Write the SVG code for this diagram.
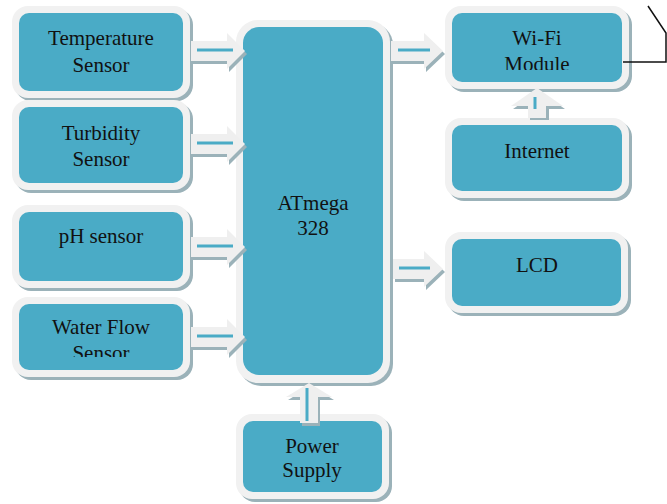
<svg xmlns="http://www.w3.org/2000/svg" width="667" height="504" viewBox="0 0 667 504">
<style>
.sh{fill:#9bb2b9}
.ou{fill:#f1f1f1}
.in{fill:#4aabc6}
.t{font-family:'Liberation Serif',serif;font-size:21px;fill:#111;text-anchor:middle}
.ash{fill:#9bb2b9}
.ab{fill:#efefef}
.al{stroke:#4aabc6;stroke-width:3;fill:none}
</style>
<defs>
<clipPath id="cWater"><rect x="19" y="300" width="164" height="57"/></clipPath>
<clipPath id="cWifi"><rect x="452" y="10" width="170" height="60"/></clipPath>
</defs>
<rect width="667" height="504" fill="#fff"/>
<g id="nodes">
<g id="temp">
<rect class="sh" x="15" y="9" width="178" height="92" rx="16"/>
<rect class="ou" x="12" y="6" width="178" height="92" rx="16"/>
<rect class="in" x="19" y="13" width="164" height="78" rx="10"/>
<text class="t" x="101" y="45">Temperature</text>
<text class="t" x="101" y="72">Sensor</text>
</g>
<g id="turb">
<rect class="sh" x="15" y="103" width="178" height="90" rx="16"/>
<rect class="ou" x="12" y="100" width="178" height="90" rx="16"/>
<rect class="in" x="19" y="107" width="164" height="76" rx="10"/>
<text class="t" x="101" y="140">Turbidity</text>
<text class="t" x="101" y="166">Sensor</text>
</g>
<g id="ph">
<rect class="sh" x="15" y="208" width="178" height="83" rx="16"/>
<rect class="ou" x="12" y="205" width="178" height="83" rx="16"/>
<rect class="in" x="19" y="212" width="164" height="69" rx="10"/>
<text class="t" x="101" y="243">pH sensor</text>
</g>
<g id="water">
<rect class="sh" x="15" y="300" width="178" height="80" rx="16"/>
<rect class="ou" x="12" y="297" width="178" height="80" rx="16"/>
<rect class="in" x="19" y="304" width="164" height="66" rx="10"/>
<text class="t" x="101" y="334">Water Flow</text>
<text class="t" x="101" y="360" clip-path="url(#cWater)">Sensor</text>
</g>
<g id="atmega">
<rect class="sh" x="239" y="23" width="154" height="363" rx="22"/>
<rect class="ou" x="236" y="20" width="154" height="363" rx="22"/>
<rect class="in" x="243" y="27" width="140" height="348" rx="16"/>
<text class="t" x="313" y="210">ATmega</text>
<text class="t" x="313" y="235">328</text>
</g>
<g id="power">
<rect class="sh" x="239" y="417" width="153" height="85" rx="16"/>
<rect class="ou" x="236" y="414" width="153" height="85" rx="16"/>
<rect class="in" x="243" y="421" width="139" height="71" rx="10"/>
<text class="t" x="312" y="453">Power</text>
<text class="t" x="312" y="477">Supply</text>
</g>
<g id="wifi">
<rect class="sh" x="448" y="9" width="184" height="83" rx="16"/>
<rect class="ou" x="445" y="6" width="184" height="83" rx="16"/>
<rect class="in" x="452" y="13" width="170" height="69" rx="10"/>
<text class="t" x="537" y="45">Wi-Fi</text>
<text class="t" x="537" y="71" clip-path="url(#cWifi)">Module</text>
</g>
<g id="internet">
<rect class="sh" x="448" y="121" width="184" height="80" rx="16"/>
<rect class="ou" x="445" y="118" width="184" height="80" rx="16"/>
<rect class="in" x="452" y="125" width="170" height="66" rx="10"/>
<text class="t" x="537" y="158">Internet</text>
</g>
<g id="lcd">
<rect class="sh" x="448" y="235" width="183" height="81" rx="16"/>
<rect class="ou" x="445" y="232" width="183" height="81" rx="16"/>
<rect class="in" x="452" y="239" width="169" height="67" rx="10"/>
<text class="t" x="537" y="272">LCD</text>
</g>
<g id="antenna">
<polyline points="623,62 666,62 666,33 648,6" fill="none" stroke="#111" stroke-width="1.5"/>
</g>
</g>
<g id="connectors">
<path class="ash" d="M193,44 H229 V36 L247,54 L229,72 V64 H193 Z"/>
<path class="ab" d="M191,41 H227 V33 L245,51 L227,69 V61 H191 Z"/>
<line class="al" x1="197" y1="50" x2="233" y2="50"/>
<path class="ash" d="M193,137 H229 V129 L247,147 L229,165 V157 H193 Z"/>
<path class="ab" d="M191,134 H227 V126 L245,144 L227,162 V154 H191 Z"/>
<line class="al" x1="197" y1="143" x2="233" y2="143"/>
<path class="ash" d="M193,240 H229 V232 L247,250 L229,268 V260 H193 Z"/>
<path class="ab" d="M191,237 H227 V229 L245,247 L227,265 V257 H191 Z"/>
<line class="al" x1="197" y1="246" x2="233" y2="246"/>
<path class="ash" d="M193,330 H229 V322 L247,340 L229,358 V350 H193 Z"/>
<path class="ab" d="M191,327 H227 V319 L245,337 L227,355 V347 H191 Z"/>
<line class="al" x1="197" y1="336" x2="233" y2="336"/>
<path class="ash" d="M393,44 H426 V36 L445,54 L426,72 V64 H393 Z"/>
<path class="ab" d="M391,41 H424 V33 L443,51 L424,69 V61 H391 Z"/>
<line class="al" x1="398" y1="50" x2="430" y2="50"/>
<path class="ash" d="M395,262 H426 V254 L445,272 L426,290 V282 H395 Z"/>
<path class="ab" d="M393,259 H424 V251 L443,269 L424,287 V279 H393 Z"/>
<line class="al" x1="399" y1="268" x2="430" y2="268"/>
<path class="ash" d="M530,120 V109 H513 L539,91 L565,109 H549 V120 Z"/>
<path class="ab" d="M528,118 V106 H511 L537,88 L563,106 H546 V118 Z"/>
<line class="al" x1="535" y1="97" x2="535" y2="109"/>
<path class="ash" d="M302,426 V400 H288 L311,386 L334,400 H320 V426 Z"/>
<path class="ab" d="M300,423 V397 H286 L309,383 L332,397 H318 V423 Z"/>
<line class="al" x1="307" y1="388" x2="307" y2="421"/>
</g>
</svg>
